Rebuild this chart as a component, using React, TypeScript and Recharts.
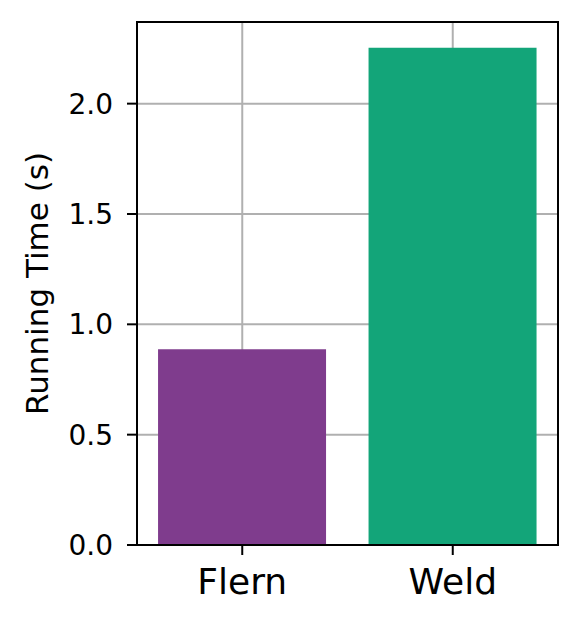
import { BarChart, Bar, XAxis, YAxis, CartesianGrid, Cell, ReferenceArea } from 'recharts';

const methods = ['Flern', 'Weld'];
const runningTimes = [0.887, 2.253];
const barColors = ['#7f3c8d', '#13a579'];
const yTicks = [0, 0.5, 1.0, 1.5, 2.0];
const yMax = 2.37;

const FONT = 'DejaVu Sans';
const AXIS = '#000000';
const GRID = '#b0b0b0';

const data = methods.map((m, i) => ({ name: m, time: runningTimes[i] }));

export default function App() {
  return (
    <div style={{ position: 'absolute', left: 0, top: 0, background: '#fff', fontFamily: FONT }}>
      <BarChart
        width={581}
        height={626}
        data={data}
        margin={{ top: 22, right: 23, left: 0, bottom: 31 }}
        barCategoryGap="10%"
      >
        <XAxis
          dataKey="name"
          stroke={AXIS}
          strokeWidth={2}
          tickSize={10}
          tickMargin={13}
          height={50}
          tick={{ fill: '#000', fontSize: 36, fontFamily: FONT }}
          tickLine={{ stroke: AXIS, strokeWidth: 2 }}
        />
        <YAxis
          domain={[0, yMax]}
          ticks={yTicks}
          tickFormatter={(v: number) => v.toFixed(1)}
          width={137}
          stroke={AXIS}
          strokeWidth={2}
          tickSize={10}
          tickMargin={14}
          allowDataOverflow
          tick={{ fill: '#000', fontSize: 28, fontFamily: FONT }}
          tickLine={{ stroke: AXIS, strokeWidth: 2 }}
          label={{
            value: 'Running Time (s)',
            angle: -90,
            position: 'insideLeft',
            offset: 37,
            textAnchor: 'middle',
            style: { fontSize: 31, fontFamily: FONT, fill: '#000', textAnchor: 'middle' },
          }}
        />
        <Bar dataKey="time" isAnimationActive={false}>
          {data.map((d, i) => (
            <Cell key={d.name} fill={barColors[i]} />
          ))}
        </Bar>
        <CartesianGrid stroke={GRID} strokeWidth={2} />
        <ReferenceArea y1={0} y2={yMax} fill="none" fillOpacity={0} stroke={AXIS} strokeWidth={2} ifOverflow="visible" />
      </BarChart>
    </div>
  );
}
